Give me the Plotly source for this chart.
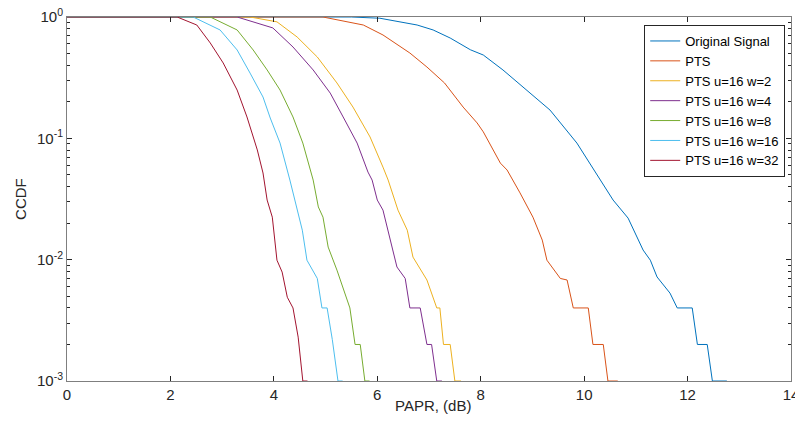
import plotly.graph_objects as go

names = ["Original Signal", "PTS", "PTS u=16 w=2", "PTS u=16 w=4",
         "PTS u=16 w=8", "PTS u=16 w=16", "PTS u=16 w=32"]
colors = ["#0072BD", "#D95319", "#EDB120", "#7E2F8E", "#77AC30", "#4DBEEE", "#A2142F"]

x_orig = [0, 5.5, 6.05, 6.77, 7.08, 7.41, 7.8, 8.05, 8.43, 8.82, 9.34, 9.86, 10.17, 10.56,
          10.85, 11.14, 11.28, 11.41, 11.66, 11.80, 12.09, 12.19, 12.38, 12.48, 12.76]
y_orig = [1, 1, 0.977, 0.859, 0.782, 0.671, 0.537, 0.486, 0.366, 0.265, 0.171, 0.0914, 0.0569,
          0.031, 0.022, 0.012, 0.0099, 0.0072, 0.0053, 0.004, 0.004, 0.002, 0.002, 0.001, 0.001]

x_pts = [0, 4.95, 5.73, 6.11, 6.63, 6.96, 7.3, 7.66, 7.93, 8.05, 8.38, 8.51, 8.76, 9.01, 9.19,
         9.28, 9.54, 9.67, 9.79, 10.08, 10.17, 10.37, 10.46, 10.65]
y_pts = [1, 1, 0.859, 0.711, 0.505, 0.387, 0.286, 0.181, 0.134, 0.113, 0.0625, 0.0548, 0.0355,
         0.0224, 0.0145, 0.0099, 0.0070, 0.0068, 0.004, 0.004, 0.002, 0.002, 0.001, 0.001]

x_w2 = [0, 3.54, 4.06, 4.45, 4.84, 5.22, 5.53, 5.86, 6.11, 6.21, 6.40, 6.58, 6.69, 6.96, 7.15,
        7.21, 7.28, 7.41, 7.50, 7.62]
y_w2 = [1, 1, 0.912, 0.684, 0.468, 0.286, 0.181, 0.1026, 0.0579, 0.0453, 0.0256, 0.0175,
        0.0105, 0.0068, 0.004, 0.004, 0.002, 0.002, 0.001, 0.001]

x_w4 = [0, 3.29, 3.98, 4.37, 4.76, 5.09, 5.34, 5.61, 5.82, 5.90, 6.0, 6.11, 6.38, 6.54, 6.63,
        6.83, 6.96, 7.05, 7.15, 7.25]
y_w4 = [1, 1, 0.813, 0.566, 0.366, 0.236, 0.15, 0.0914, 0.0527, 0.0453, 0.031, 0.0256, 0.0087,
        0.007, 0.004, 0.004, 0.002, 0.002, 0.001, 0.001]

x_w8 = [0, 2.77, 3.29, 3.60, 3.87, 4.12, 4.37, 4.56, 4.76, 4.86, 4.95, 5.05, 5.22, 5.47, 5.57,
        5.67, 5.76, 5.85]
y_w8 = [1, 1, 0.782, 0.535, 0.366, 0.25, 0.15, 0.0914, 0.0453, 0.0272, 0.0224, 0.0127, 0.0082,
        0.004, 0.002, 0.002, 0.001, 0.001]

x_w16 = [0, 2.44, 2.96, 3.29, 3.54, 3.79, 3.93, 4.12, 4.31, 4.55, 4.64, 4.84, 4.93, 5.03,
         5.13, 5.24, 5.33]
y_w16 = [1, 1, 0.782, 0.535, 0.345, 0.219, 0.147, 0.0914, 0.0453, 0.0175, 0.0099, 0.007,
         0.004, 0.004, 0.0022, 0.001, 0.001]

x_w32 = [0, 2.13, 2.51, 2.77, 3.02, 3.29, 3.48, 3.68, 3.79, 3.87, 3.97, 4.06, 4.16, 4.26,
         4.37, 4.47, 4.56, 4.65]
y_w32 = [1, 1, 0.859, 0.611, 0.418, 0.25, 0.15, 0.0802, 0.0518, 0.031, 0.0224, 0.0099, 0.0079,
         0.0049, 0.004, 0.0023, 0.001, 0.001]

xs = [x_orig, x_pts, x_w2, x_w4, x_w8, x_w16, x_w32]
ys = [y_orig, y_pts, y_w2, y_w4, y_w8, y_w16, y_w32]

x_ticks = [0, 2, 4, 6, 8, 10, 12, 14]
y_ticks = [1e-3, 1e-2, 1e-1, 1]
y_ticktext = ["10<sup>-3</sup>", "10<sup>-2</sup>", "10<sup>-1</sup>", "10<sup>0</sup>"]

fig = go.Figure()
for n, c, x, y in zip(names, colors, xs, ys):
    fig.add_trace(go.Scatter(x=x, y=y, mode="lines", name=n,
                             line=dict(color=c, width=1)))

FAM = "Liberation Sans, Arial, sans-serif"
font = dict(family=FAM, size=15, color="#262626")
# page body has an 8px default margin; figure sized so the plot lands where the reference has it
fig.update_layout(
    width=795, height=408,
    margin=dict(l=59, r=12, t=9, b=35, autoexpand=False),
    paper_bgcolor="white", plot_bgcolor="white",
    font=font,
    legend=dict(x=0.992, y=0.978, xanchor="right", yanchor="top",
                bgcolor="white", bordercolor="#262626", borderwidth=1,
                font=dict(family=FAM, size=13, color="#000"),
                tracegroupgap=0, itemwidth=30),
    showlegend=True,
)
fig.update_xaxes(range=[0, 14], tickvals=x_ticks, ticks="inside", ticklen=5,
                 tickcolor="#262626", showline=True, linecolor="#7f7f7f", linewidth=1,
                 mirror="ticks", showgrid=False, zeroline=False, automargin=False,
                 ticklabeloverflow="allow", tickfont=dict(size=15))
fig.update_yaxes(type="log", range=[-3, 0], tickvals=y_ticks, ticktext=y_ticktext,
                 ticks="inside", ticklen=5, tickcolor="#262626",
                 showline=True, linecolor="#7f7f7f", linewidth=1, mirror="ticks",
                 showgrid=False, zeroline=False, automargin=False,
                 ticklabeloverflow="allow",
                 minor=dict(ticks="inside", ticklen=3, tickcolor="#262626", dtick="D1",
                            showgrid=False),
                 tickfont=dict(size=15))
fig.add_annotation(text="PAPR, (dB)", xref="paper", yref="paper", x=0.505, y=-0.038,
                   xanchor="center", yanchor="top", showarrow=False, font=dict(size=15))
fig.add_annotation(text="CCDF", xref="paper", yref="paper", x=-0.065, y=0.5, textangle=-90,
                   xanchor="center", yanchor="middle", showarrow=False, font=dict(size=15))

fig.write_html("out.html")
